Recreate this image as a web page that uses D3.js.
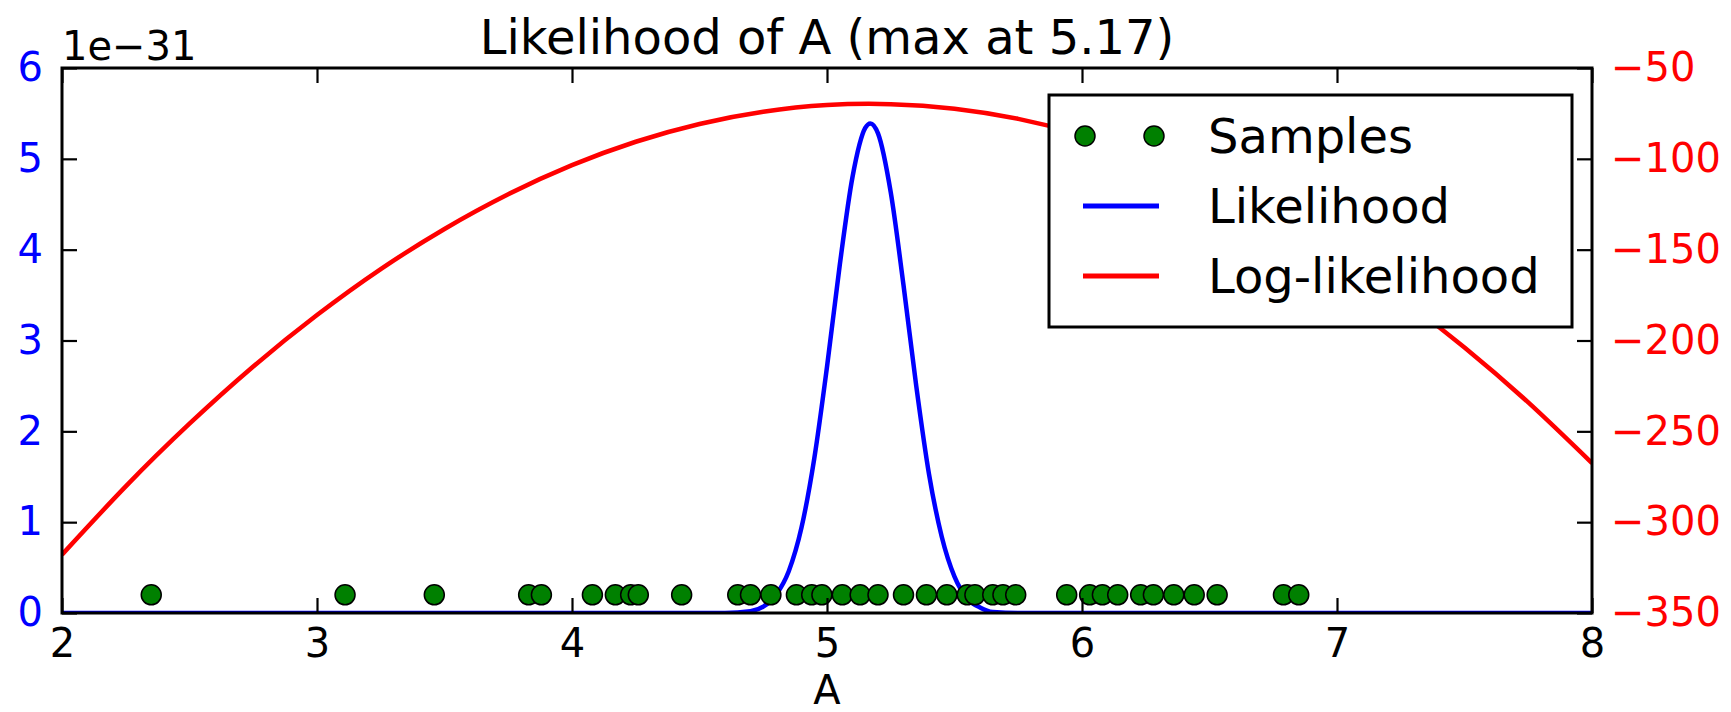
<!DOCTYPE html>
<html>
<head>
<meta charset="utf-8">
<script src="https://cdn.jsdelivr.net/npm/d3@7/dist/d3.min.js"></script>
<style>
body { margin: 0; background: #fff; }
svg text { font-family: "DejaVu Sans", sans-serif; }
</style>
</head>
<body>
<svg></svg>
<script>
// values (likelihood in units of 1e-31)
var samples = [2.35, 3.11, 3.46, 3.83, 3.88, 4.08, 4.17, 4.23, 4.26, 4.43,
  4.65, 4.70, 4.78, 4.88, 4.94, 4.98, 5.06, 5.13, 5.20, 5.30, 5.39, 5.47,
  5.55, 5.58, 5.65, 5.69, 5.74, 5.94, 6.03, 6.08, 6.14, 6.23, 6.28, 6.36,
  6.44, 6.53, 6.79, 6.85];
var sampleLevel = 0.2;

var likeA = [2.0, 4.6, 4.7, 4.75, 4.8, 4.85, 4.9, 4.95, 5.0, 5.05, 5.1, 5.15, 5.17,
  5.2, 5.25, 5.3, 5.35, 5.4, 5.45, 5.5, 5.55, 5.6, 5.65, 5.75, 8.0];
var likeVal = [0, 0, 0.02, 0.07, 0.2, 0.46, 0.94, 1.70, 2.71, 3.83, 4.80, 5.34, 5.39,
  5.28, 4.63, 3.61, 2.50, 1.53, 0.84, 0.40, 0.16, 0.06, 0.01, 0, 0];

var logA = [2.0, 2.25, 2.5, 2.75, 3.0, 3.25, 3.5, 3.75, 4.0, 4.25, 4.5, 4.75, 5.0,
  5.25, 5.5, 5.75, 6.0, 6.25, 6.5, 6.75, 7.0, 7.25, 7.5, 7.75, 8.0];
var logVal = [-317.9, -280.3, -245.8, -214.3, -186.0, -160.7, -138.6, -119.5, -103.5,
  -90.6, -80.8, -74.1, -70.4, -69.9, -72.4, -78.0, -86.7, -98.5, -113.4, -131.4,
  -152.4, -176.6, -203.8, -234.1, -267.5];

var xTicks = [2, 3, 4, 5, 6, 7, 8];
var leftTicks = [0, 1, 2, 3, 4, 5, 6];
var rightTicks = [-350, -300, -250, -200, -150, -100, -50];
var titleText = "Likelihood of A (max at 5.17)";
var offsetText = "1e\u221231";
var xLabel = "A";
var legendLabels = ["Samples", "Likelihood", "Log-likelihood"];

var svgWidth = 1731;
var svgHeight = 712;
var pLeft = 62, pRight = 1592, pTop = 68, pBottom = 613;

var svg = d3.select("svg")
  .attr("width", svgWidth)
  .attr("height", svgHeight);

var x = d3.scaleLinear().domain([2, 8]).range([pLeft, pRight]);
var yL = d3.scaleLinear().domain([0, 6]).range([pBottom, pTop]);
var yR = d3.scaleLinear().domain([-350, -50]).range([pBottom, pTop]);

svg.append("clipPath").attr("id", "plotclip")
  .append("rect")
  .attr("x", pLeft).attr("y", pTop)
  .attr("width", pRight - pLeft).attr("height", pBottom - pTop);

var plot = svg.append("g").attr("clip-path", "url(#plotclip)");

var likeLine = d3.line()
  .x(function(d, i) { return x(likeA[i]); })
  .y(function(d) { return yL(d); })
  .curve(d3.curveMonotoneX);

var logLine = d3.line()
  .x(function(d, i) { return x(logA[i]); })
  .y(function(d) { return yR(d); })
  .curve(d3.curveNatural);

plot.append("path")
  .attr("d", likeLine(likeVal))
  .attr("fill", "none")
  .attr("stroke", "#0000ff")
  .attr("stroke-width", 4.5);

plot.selectAll("circle")
  .data(samples)
  .enter()
  .append("circle")
  .attr("cx", function(d) { return x(d); })
  .attr("cy", yL(sampleLevel))
  .attr("r", 10)
  .attr("fill", "#008000")
  .attr("stroke", "#000")
  .attr("stroke-width", 1.5);

plot.append("path")
  .attr("d", logLine(logVal))
  .attr("fill", "none")
  .attr("stroke", "#ff0000")
  .attr("stroke-width", 4.5);

// axes, ticks pointing inward
function styleAxis(g, color) {
  g.select(".domain").remove();
  g.selectAll(".tick line").attr("stroke", "#000").attr("stroke-width", 2.2);
  g.selectAll(".tick text")
    .attr("fill", color)
    .style("font-size", "40px")
    .style("font-family", "'DejaVu Sans', sans-serif");
}

svg.append("g")
  .attr("transform", "translate(0," + pBottom + ")")
  .call(d3.axisBottom(x).tickValues(xTicks).tickSize(-15).tickPadding(16).tickFormat(d3.format("d")))
  .call(styleAxis, "#000");

svg.append("g")
  .attr("transform", "translate(0," + pTop + ")")
  .call(d3.axisTop(x).tickValues(xTicks).tickSize(-15).tickFormat(""))
  .call(styleAxis, "#000");

svg.append("g")
  .attr("transform", "translate(" + pLeft + ",0)")
  .call(d3.axisLeft(yL).tickValues(leftTicks).tickSize(-15).tickPadding(19).tickFormat(d3.format("d")))
  .call(styleAxis, "#0000ff");

svg.append("g")
  .attr("transform", "translate(" + pRight + ",0)")
  .call(d3.axisRight(yR).tickValues(rightTicks).tickSize(-15).tickPadding(19).tickFormat(d3.format("d")))
  .call(styleAxis, "#ff0000");

svg.append("rect")
  .attr("x", pLeft).attr("y", pTop)
  .attr("width", pRight - pLeft).attr("height", pBottom - pTop)
  .attr("fill", "none")
  .attr("stroke", "#000")
  .attr("stroke-width", 3);

// texts
svg.append("text")
  .attr("x", (pLeft + pRight) / 2)
  .attr("y", 54)
  .attr("text-anchor", "middle")
  .style("font-size", "48px")
  .text(titleText);

svg.append("text")
  .attr("x", pLeft)
  .attr("y", 60)
  .style("font-size", "40px")
  .text(offsetText);

svg.append("text")
  .attr("x", (pLeft + pRight) / 2)
  .attr("y", 704)
  .attr("text-anchor", "middle")
  .style("font-size", "40px")
  .text(xLabel);

// legend
var legend = svg.append("g");
legend.append("rect")
  .attr("x", 1049).attr("y", 95)
  .attr("width", 523).attr("height", 232)
  .attr("fill", "#fff")
  .attr("stroke", "#000")
  .attr("stroke-width", 3);

var rowY = [136, 206, 276];
var rowColor = ["#008000", "#0000ff", "#ff0000"];

legend.selectAll("circle")
  .data([1085, 1154])
  .enter()
  .append("circle")
  .attr("cx", function(d) { return d; })
  .attr("cy", rowY[0])
  .attr("r", 10)
  .attr("fill", rowColor[0])
  .attr("stroke", "#000")
  .attr("stroke-width", 1.5);

legend.selectAll("line")
  .data([1, 2])
  .enter()
  .append("line")
  .attr("x1", 1083).attr("x2", 1159)
  .attr("y1", function(d) { return rowY[d]; })
  .attr("y2", function(d) { return rowY[d]; })
  .attr("stroke", function(d) { return rowColor[d]; })
  .attr("stroke-width", 5);

legend.selectAll("text")
  .data(legendLabels)
  .enter()
  .append("text")
  .attr("x", 1208)
  .attr("y", function(d, i) { return rowY[i] + 17; })
  .style("font-size", "48px")
  .text(function(d) { return d; });
</script>
</body>
</html>
